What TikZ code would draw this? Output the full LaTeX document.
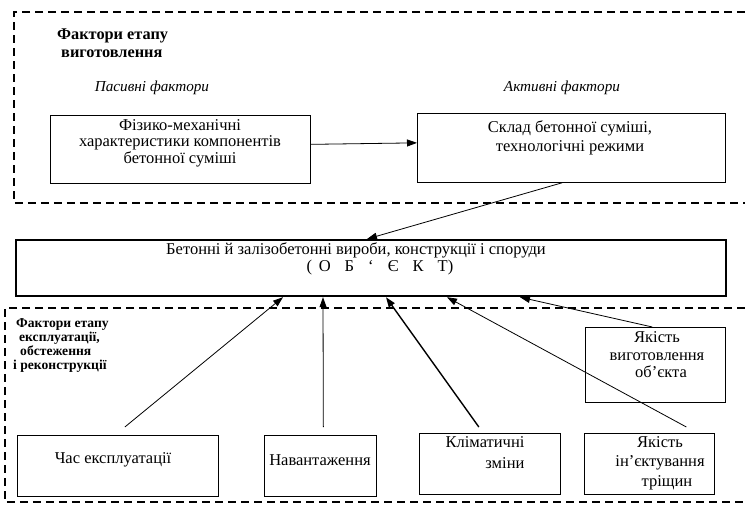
\documentclass[tikz,border=0pt]{standalone}
\usepackage{fontspec}
\setmainfont{Liberation Serif}
\usetikzlibrary{arrows.meta,calc}
\begin{document}
\begin{tikzpicture}[x=1pt,y=-1pt,
  box/.style={draw,line width=0.7pt,anchor=north west,inner sep=0pt},
  mainbox/.style={draw,line width=2.2pt,anchor=north west,inner sep=0pt},
  region/.style={line width=1.3pt,dash pattern=on 8pt off 5pt},
  arr/.style={line width=0.8pt,-{Triangle[length=10pt,width=7pt]}},
  txt/.style={inner sep=0pt,align=center,font=\fontsize{16.5}{16.5}\selectfont},
  head/.style={inner sep=0pt,align=left,anchor=west,font=\fontsize{16.3}{18}\selectfont\bfseries},
  itl/.style={inner sep=0pt,font=\fontsize{15.2}{16}\selectfont\itshape}
]
\useasboundingbox (0,0) rectangle (745,509);
% regions
\draw[region] (745,12) -- (14,12) -- (14,203) -- (745,203);
\draw[region] (745,308) -- (5,308) -- (5,502) -- (745,502);
% headings
\node[head] (hd1) at (57,43) {Фактори етапу\\\hspace*{4pt}виготовлення};
\node[itl] (pas) at (152,88) {Пасивні фактори};
\node[itl] (act) at (562,88) {Активні фактори};
\node[head,font=\fontsize{13.6}{14}\selectfont\bfseries] (hd2) at (13,346)
  {\hspace*{3pt}Фактори етапу\\\hspace*{6pt}експлуатації,\\\hspace*{7pt}обстеження\\і реконструкції};
% boxes
\node[box,minimum width=260pt,minimum height=68pt] (b1) at (50,115) {};
\node[box,minimum width=308pt,minimum height=69pt] (b2) at (417,113) {};
\node[mainbox,minimum width=710pt,minimum height=56pt] (main) at (15,239) {};
\node[box,minimum width=201pt,minimum height=61pt] (cas) at (17,435) {};
\node[box,minimum width=112pt,minimum height=61pt] (nav) at (264,435) {};
\node[box,minimum width=141pt,minimum height=61pt] (klim) at (419,433) {};
\node[box,minimum width=130pt,minimum height=61pt] (inj) at (584,433) {};
\node[box,minimum width=140pt,minimum height=75pt] (yak) at (585,327) {};
% texts
\node[txt] (t1) at (180,143) {Фізико-механічні\\характеристики компонентів\\бетонної суміші};
\node[txt,font=\fontsize{16.5}{19}\selectfont] (t2) at (570,137.5) {Склад бетонної суміші,\\технологічні режими};
\node[txt] (m1) at (356,250) {Бетонні й залізобетонні вироби, конструкції і споруди};
\node[txt] (m2) at (380,268) {(\hspace{0.4em}О\hspace{0.85em}Б\hspace{0.85em}‘\hspace{0.85em}Є\hspace{0.85em}К\hspace{0.85em}Т)};
\node[txt] (tcas) at (113,460) {Час експлуатації};
\node[txt] (tnav) at (320,460) {Навантаження};
\node[txt,align=right,font=\fontsize{16.5}{21}\selectfont] (tklim) at (485,452.5) {Кліматичні\\зміни};
\node[txt,font=\fontsize{16.5}{19.5}\selectfont] (tinj) at (660,463) {Якість\\ін'єктування\\\hspace*{14pt}тріщин};
\node[txt,font=\fontsize{16.5}{17.5}\selectfont] (tyak) at (657,355) {Якість\\виготовлення\\\hspace*{8pt}об'єкта};
% connectors
\draw[arr] ([yshift=5pt]b1.east) -- ([yshift=5pt]b2.west);
\draw[arr] ([xshift=-9pt]b2.south) -- ([xshift=352pt]main.north west);
\draw[arr] ([xshift=7pt,yshift=8pt]cas.north) -- ([xshift=268pt]main.south west);
\draw[arr] ([xshift=3pt,yshift=8pt]nav.north) -- ([xshift=308pt]main.south west);
\draw[arr,line width=1.4pt] ([xshift=-11pt,yshift=6pt]klim.north) -- ([xshift=371pt]main.south west);
\draw[arr] ([xshift=37pt,yshift=6pt]inj.north) -- ([xshift=432pt]main.south west);
\draw[arr] ([xshift=-3pt]yak.north) -- ([xshift=505pt]main.south west);
\end{tikzpicture}
\end{document}
